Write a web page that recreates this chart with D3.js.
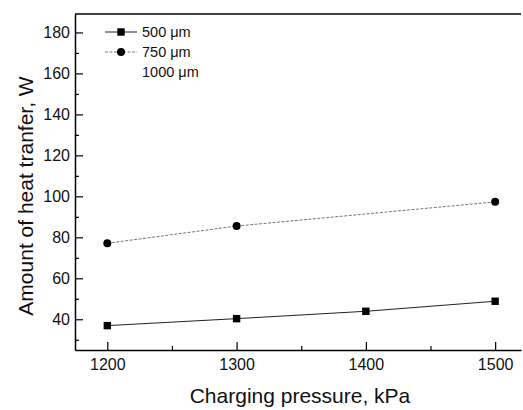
<!DOCTYPE html>
<html lang="en">
<head>
  <meta charset="UTF-8">
  <title>Heat transfer vs charging pressure</title>
  <style>
    body { margin: 0; background: #fff; }
    text { font-family: 'Liberation Sans', Arial, Helvetica, sans-serif; fill: #111; }
  </style>
</head>
<body>
  <svg id="svg" width="523" height="410"></svg>

  <script src="https://d3js.org/d3.v7.min.js"></script>
  <script>
    // values
    const pressures500 = [1200, 1300, 1400, 1500]
    const heat500 = [36.9, 40.3, 43.9, 48.8]
    const pressures750 = [1200, 1300, 1500]
    const heat750 = [77.1, 85.5, 97.3]
    const legendLabels = ['500 \u03bcm', '750 \u03bcm', '1000 \u03bcm']
    const xTicks = [1200, 1300, 1400, 1500]
    const xMinorTicks = [1250, 1350, 1450]
    const yTicks = [40, 60, 80, 100, 120, 140, 160, 180]
    const yMinorTicks = [30, 50, 70, 90, 110, 130, 150, 170]

    const margin = { top: 14, right: 2, bottom: 60, left: 75 }
    const width = 523 - margin.left - margin.right
    const height = 410 - margin.top - margin.bottom

    const xscale = d3.scaleLinear()
      .domain([1175, 1520])
      .range([margin.left, margin.left + width])
    const yscale = d3.scaleLinear()
      .domain([25, 189])
      .range([margin.top + height, margin.top])

    const svg = d3.select('#svg')

    // ------ AXES ------------------------
    const bottomAxis = d3.axisBottom(xscale)
      .tickValues(xTicks)
      .tickFormat(d3.format('d'))
      .tickSizeInner(-8)
      .tickSizeOuter(0)
      .tickPadding(9)
    const gx = svg.append('g')
      .attr('transform', `translate(0, ${margin.top + height})`)
      .call(bottomAxis)
    gx.selectAll('text').style('font-size', '16px')

    svg.append('g')
      .attr('transform', `translate(0, ${margin.top + height})`)
      .call(d3.axisBottom(xscale).tickValues(xMinorTicks).tickFormat('').tickSizeInner(-4).tickSizeOuter(0))
      .select('.domain').remove()

    const leftAxis = d3.axisLeft(yscale)
      .tickValues(yTicks)
      .tickSizeInner(-8)
      .tickSizeOuter(0)
      .tickPadding(5)
    const gy = svg.append('g')
      .attr('transform', `translate(${margin.left}, 0)`)
      .call(leftAxis)
    gy.selectAll('text').style('font-size', '16px')

    svg.append('g')
      .attr('transform', `translate(${margin.left}, 0)`)
      .call(d3.axisLeft(yscale).tickValues(yMinorTicks).tickFormat('').tickSizeInner(-4).tickSizeOuter(0))
      .select('.domain').remove()

    svg.selectAll('.domain').attr('stroke-width', 1.5)
    svg.selectAll('.tick line').attr('stroke-width', 1.2)

    // top frame line
    svg.append('line')
      .attr('x1', xscale.range()[0])
      .attr('x2', xscale.range()[1])
      .attr('y1', yscale.range()[1])
      .attr('y2', yscale.range()[1])
      .attr('stroke', '#000')
      .attr('stroke-width', 1.5)

    // axis labels
    svg.append('text')
      .attr('x', 300)
      .attr('y', 403)
      .attr('text-anchor', 'middle')
      .style('font-size', '21px')
      .text('Charging pressure, kPa')
    svg.append('text')
      .attr('transform', 'translate(33, 196)rotate(-90)')
      .attr('text-anchor', 'middle')
      .style('font-size', '21px')
      .text('Amount of heat tranfer, W')

    // ------ SERIES ------------------------
    const line = d3.line()
      .x(d => xscale(d[0]))
      .y(d => yscale(d[1]))

    const data500 = d3.zip(pressures500, heat500)
    const data750 = d3.zip(pressures750, heat750)

    svg.append('path')
      .datum(data750)
      .attr('d', line)
      .attr('fill', 'none')
      .attr('stroke', '#777')
      .attr('stroke-width', 1)
      .attr('stroke-dasharray', '3,1.5')
    svg.append('path')
      .datum(data500)
      .attr('d', line)
      .attr('fill', 'none')
      .attr('stroke', '#222')
      .attr('stroke-width', 1)

    svg.selectAll('.sq')
      .data(data500)
      .enter()
      .append('rect')
      .attr('class', 'sq')
      .attr('x', d => xscale(d[0]) - 3.7)
      .attr('y', d => yscale(d[1]) - 3.7)
      .attr('width', 7.4)
      .attr('height', 7.4)
      .attr('fill', '#000')
    svg.selectAll('.dot')
      .data(data750)
      .enter()
      .append('circle')
      .attr('class', 'dot')
      .attr('cx', d => xscale(d[0]))
      .attr('cy', d => yscale(d[1]))
      .attr('r', 4)
      .attr('fill', '#000')

    // ------ LEGEND ------------------------
    const legend = svg.append('g')
    const rowY = i => 32 + i * 20
    legendLabels.forEach((label, i) => {
      if (i < 2) {
        legend.append('line')
          .attr('x1', 105).attr('x2', 137)
          .attr('y1', rowY(i)).attr('y2', rowY(i))
          .attr('stroke', i === 0 ? '#222' : '#777')
          .attr('stroke-width', 1)
          .attr('stroke-dasharray', i === 0 ? null : '3,1.5')
      }
      if (i === 0) {
        legend.append('rect')
          .attr('x', 121 - 3.7).attr('y', rowY(i) - 3.7)
          .attr('width', 7.4).attr('height', 7.4)
          .attr('fill', '#000')
      } else if (i === 1) {
        legend.append('circle')
          .attr('cx', 121).attr('cy', rowY(i)).attr('r', 4)
          .attr('fill', '#000')
      }
      legend.append('text')
        .attr('x', 142)
        .attr('y', rowY(i))
        .attr('dy', '0.35em')
        .style('font-size', '14.5px')
        .text(label)
    })
  </script>
</body>
</html>
